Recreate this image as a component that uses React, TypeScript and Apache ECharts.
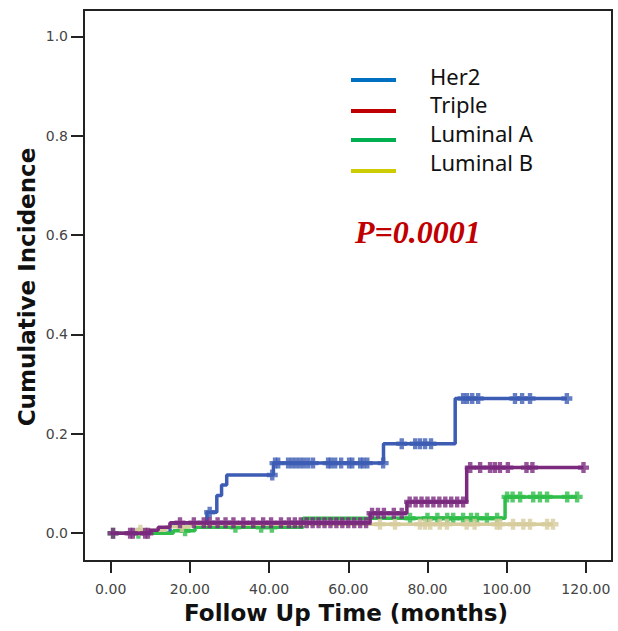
import React, { useEffect, useRef } from "react";
import * as echarts from "echarts";

// ---- axis ticks ----
const xTicks = [0, 20, 40, 60, 80, 100, 120];
const yTicks = [0, 0.2, 0.4, 0.6, 0.8, 1.0];

// ---- legend ----
const legendNames = ["Her2", "Triple", "Luminal A", "Luminal B"];
const legendColors = ["#0070c0", "#c00000", "#00b050", "#cccc00"];

// ---- step curves (time in months, cumulative incidence) ----
const her2Times = [0, 15, 24.3, 26.8, 28.0, 29.3, 41.1, 68.9, 87.0, 115.2];
const her2Values = [0, 0.02, 0.042, 0.076, 0.097, 0.117, 0.141, 0.18, 0.271, 0.271];
const her2Censored = [25.0, 40.8, 41.5, 42.3, 44.8, 45.8, 46.8, 47.8, 48.8, 49.9, 51.1, 54.9, 55.6, 56.7, 58.2, 60.2, 61.0, 63.0, 63.8, 64.8, 68.8, 73.5, 76.9, 78.1, 79.4, 80.9, 89.0, 90.0, 91.3, 92.8, 102.1, 103.9, 105.9, 115.2];

const tripleTimes = [0, 9.9, 12, 15, 65.5, 74.8, 89.9, 119.4];
const tripleValues = [0, 0.006, 0.012, 0.021, 0.04, 0.063, 0.132, 0.132];
const tripleCensored = [0.6, 4.9, 5.6, 8.7, 9.4, 17.5, 21, 23.5, 25, 27, 29, 31, 33.5, 36, 38.5, 40.5, 43, 45, 46.5, 48, 49.5, 51, 52.5, 54, 55.5, 57, 58.5, 60, 61.5, 63, 64.5, 66, 67.5, 69, 71.5, 73.5, 75.5, 77, 78.5, 80, 81.5, 83, 84.5, 86, 87.5, 89, 90.8, 93.3, 95.8, 97, 98.3, 100.3, 105, 106.5, 119.4];

const lumATimes = [0, 15.8, 21.3, 48.6, 99.6, 117.8];
const lumAValues = [0, 0.005, 0.012, 0.03, 0.073, 0.073];
const lumACensored = [0.6, 7, 18.8, 31.5, 38, 40.7, 75.6, 80, 82.5, 85, 86.5, 89, 91, 92.5, 95, 97.6, 100.1, 101.5, 103.4, 106.7, 108.4, 110.2, 115.3, 117.8];

const lumBTimes = [0, 6.5, 14, 20, 111.7];
const lumBValues = [0, 0.006, 0.013, 0.018, 0.018];
const lumBCensored = [7.5, 18, 68, 71.8, 78.1, 79.4, 80.7, 83.1, 84.9, 89.9, 91.9, 97.5, 98.3, 101.6, 104.2, 105.9, 110.2, 111.7];

const curveColors = ["#3d5cb4", "#7b2a7e", "#2fbe4a", "#d6cc9c"];

const plusSymbol = "path://M3,0H7V3H10V7H7V10H3V7H0V3H3Z";

function stepAt(times: number[], values: number[], t: number) {
  let v = values[0];
  for (let i = 0; i < times.length; i++) {
    if (times[i] <= t + 1e-9) v = values[i];
  }
  return v;
}

function makeSeries(name: string, times: number[], values: number[], censored: number[], color: string, z: number) {
  return [
    {
      name,
      type: "line",
      step: "end",
      data: times.map((t, i) => [t, values[i]]),
      showSymbol: false,
      symbol: "none",
      lineStyle: { color, width: 3.5 },
      z,
      silent: true,
    },
    {
      name: name + " censored",
      type: "scatter",
      data: censored.map((t) => [t, stepAt(times, values, t)]),
      symbol: plusSymbol,
      symbolSize: 11,
      itemStyle: { color },
      z,
      silent: true,
    },
  ];
}

export default function App() {
  const ref = useRef<HTMLDivElement>(null);
  useEffect(() => {
    if (!ref.current) return;
    const chart = echarts.init(ref.current, undefined, { renderer: "svg" });
    const legendY = [80, 111, 140, 171];
    const legendTextY = [76, 104, 133, 162];
    const graphic: any[] = [];
    legendNames.forEach((n, i) => {
      graphic.push({
        type: "line",
        shape: { x1: 351, y1: legendY[i], x2: 396, y2: legendY[i] },
        style: { stroke: legendColors[i], lineWidth: 4 },
      });
      graphic.push({
        type: "text",
        x: 430,
        y: legendTextY[i],
        style: {
          text: n,
          fontSize: 22,
          fontFamily: "Noto Sans",
          fill: "#111",
          align: "left",
          verticalAlign: "middle",
        },
      });
    });
    graphic.push({
      type: "text",
      x: 355,
      y: 232,
      style: {
        text: "P=0.0001",
        fontSize: 32,
        fontFamily: "Liberation Serif",
        fontWeight: "bold",
        fontStyle: "italic",
        fill: "#c00000",
        align: "left",
        verticalAlign: "middle",
      },
    });
    graphic.push({
      type: "text",
      x: 27,
      y: 287,
      rotation: Math.PI / 2,
      style: {
        text: "Cumulative Incidence",
        fontSize: 23,
        fontFamily: "DejaVu Sans",
        fontWeight: "bold",
        fill: "#111",
        align: "center",
        verticalAlign: "middle",
      },
    });
    graphic.push({
      type: "text",
      x: 346,
      y: 613,
      style: {
        text: "Follow Up Time (months)",
        fontSize: 23,
        fontFamily: "DejaVu Sans",
        fontWeight: "bold",
        fill: "#111",
        align: "center",
        verticalAlign: "middle",
      },
    });

    chart.setOption({
      animation: false,
      grid: {
        left: 84,
        top: 10,
        right: 6,
        bottom: 70,
        show: true,
        borderColor: "#222",
        borderWidth: 2,
        backgroundColor: "#fff",
      },
      xAxis: {
        type: "value",
        min: -6.74,
        max: 126.6,
        splitLine: { show: false },
        axisLine: { show: false, onZero: false },
        axisTick: { show: true, customValues: xTicks, length: 12, lineStyle: { color: "#222", width: 2 } },
        axisLabel: {
          customValues: xTicks,
          formatter: (v: number) => v.toFixed(2),
          margin: 21,
          fontSize: 14,
          color: "#444",
          fontFamily: "DejaVu Sans",
        },
      },
      yAxis: {
        type: "value",
        min: -0.056,
        max: 1.053,
        splitLine: { show: false },
        axisLine: { show: false, onZero: false },
        axisTick: { show: true, customValues: yTicks, length: 13, lineStyle: { color: "#222", width: 2 } },
        axisLabel: {
          customValues: yTicks,
          formatter: (v: number) => v.toFixed(1),
          margin: 16,
          fontSize: 14,
          color: "#444",
          fontFamily: "DejaVu Sans",
        },
      },
      series: [
        ...makeSeries("Her2", her2Times, her2Values, her2Censored, curveColors[0], 2),
        ...makeSeries("Luminal A", lumATimes, lumAValues, lumACensored, curveColors[2], 3),
        ...makeSeries("Luminal B", lumBTimes, lumBValues, lumBCensored, curveColors[3], 4),
        ...makeSeries("Triple", tripleTimes, tripleValues, tripleCensored, curveColors[1], 5),
      ],
      graphic,
    });
    return () => chart.dispose();
  }, []);
  return <div ref={ref} style={{ width: 618, height: 631, position: "absolute", left: 0, top: 0, background: "#fff" }} />;
}
